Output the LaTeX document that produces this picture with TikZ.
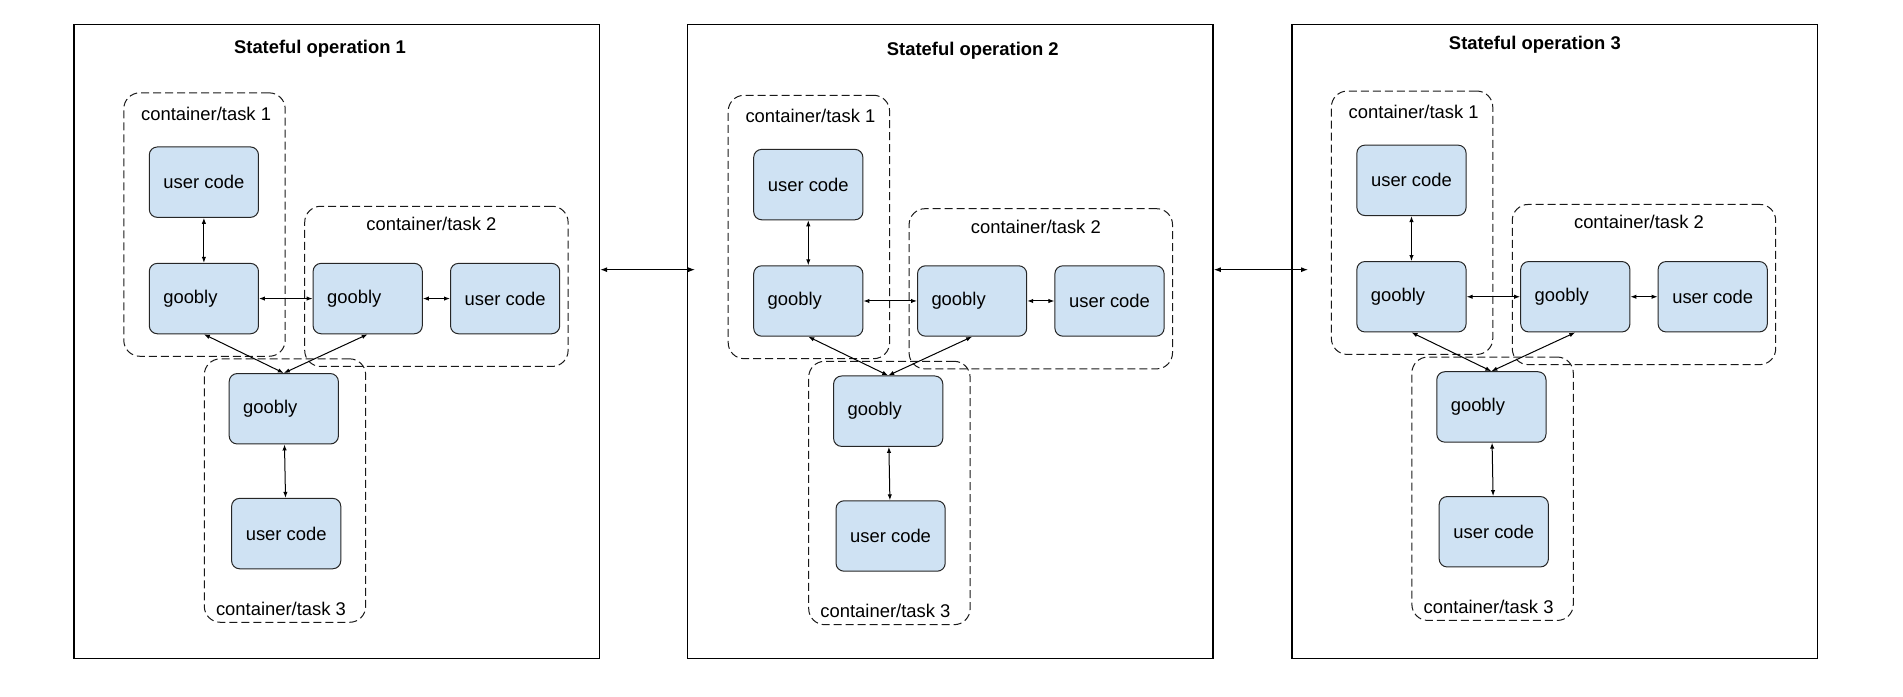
\documentclass[tikz,border=0pt]{standalone}
\usepackage{fontspec}
\setmainfont{Liberation Sans}
\usepackage{tikz}
\usetikzlibrary{arrows.meta}
\usetikzlibrary{positioning,calc}
\definecolor{boxblue}{HTML}{CFE2F3}
\tikzset{
    opbox/.style={
      rectangle,
           draw=black, line width=0.7pt,
           minimum width=262.7pt,
           minimum height=317pt,
           },
}
\tikzset{
    code/.style={
      rectangle, rounded corners=4pt,
           draw=black!85, line width=0.5pt,
           fill=boxblue,
           inner sep=2pt,
           text centered,
           minimum width=54.6pt,
           minimum height=35.2pt,
           font=\fontsize{9.2}{11}\selectfont,
           },
}
\tikzset{
    goob/.style={
      code,
           inner xsep=7pt,
           text width=40.6pt,
           align=left,
           },
}
\tikzset{
    tall/.style={
      rectangle, rounded corners=8pt,
           draw=black!90, line width=0.5pt,
           dash pattern=on 4pt off 2pt,
           minimum width=80.7pt,
           minimum height=131.7pt,
           },
    wide/.style={
      tall,
           minimum width=131.7pt,
           minimum height=80.1pt,
           },
}
\tikzset{
    tasklabel/.style={inner sep=0pt, font=\fontsize{9.2}{11}\selectfont},
    title/.style={inner sep=0pt, font=\fontsize{9.2}{11}\selectfont\bfseries},
    link/.style={{Latex[length=3pt,width=2.2pt]}-{Latex[length=3pt,width=2.2pt]}, line width=0.5pt},
}
\begin{document}
\begin{tikzpicture}[x=0.6068pt,y=0.6068pt]

\useasboundingbox (0,0) rectangle (1568,-574);

\node[opbox](op1) at (277.5,-281.2){};
\node[opbox,right = 43.4pt of op1](op2){};
\node[opbox,right = 38.8pt of op2](op3){};

\node[title](t1) at ([xshift=-8.4pt,yshift=-12.6pt]op1.north){Stateful operation 1};
\node[title](t2) at ([xshift=11.2pt,yshift=-13.4pt]op2.north){Stateful operation 2};
\node[title](t3) at ([xshift=-10pt,yshift=-10.7pt]op3.north){Stateful operation 3};

\path (op1.east) ++(0,35.8pt) coordinate (a12);
\path (op2.west) ++(4pt,35.8pt) coordinate (b12);
\path (op2.east) ++(0,35.8pt) coordinate (a23);
\path (op3.west) ++(8.3pt,35.8pt) coordinate (b23);
\draw[link,{Latex[length=3.5pt,width=2.5pt]}-{Latex[length=3.5pt,width=2.5pt]}] (a12) -- (b12);
\draw[link,{Latex[length=3.5pt,width=2.5pt]}-{Latex[length=3.5pt,width=2.5pt]}] (a23) -- (b23);

% operation 1
\node[goob](p1g1) at (168,-246){goobly};
\node[code,above = 22.5pt of p1g1](p1u1){user code};
\node[goob,right = 26.8pt of p1g1](p1g2){goobly};
\node[code,right = 13.6pt of p1g2](p1u2){user code};
\coordinate (p1m) at ($(p1g1.south)!0.5!(p1g2.south)$);
\node[goob,below = 19.4pt of p1m,xshift=-1pt](p1g3){goobly};
\node[code,below = 26.7pt of p1g3,xshift=1.2pt](p1u3){user code};

\node[tall](p1c1) at ($(p1u1)!0.5!(p1g1)+(0.3pt,7.9pt)$){};
\node[wide](p1c2) at ($(p1g2)!0.5!(p1u2)+(0,6.1pt)$){};
\node[tall](p1c3) at ($(p1g3)!0.5!(p1u3)+(0,-9.7pt)$){};
\node[tasklabel](p1l1) at ([xshift=0.8pt,yshift=-10.8pt]p1c1.north){container/task 1};
\node[tasklabel](p1l2) at ([xshift=-2.5pt,yshift=-9.2pt]p1c2.north){container/task 2};
\node[tasklabel](p1l3) at ([xshift=-2pt,yshift=7pt]p1c3.south){container/task 3};

\path (p1u1) edge[link](p1g1);
\path (p1g1) edge[link](p1g2);
\path (p1g2) edge[link](p1u2);
\path (p1g1.south) edge[link](p1g3.north);
\path (p1g2.south) edge[link](p1g3.north);
\path (p1g3) edge[link](p1u3);

% operation 2
\node[goob](p2g1) at (666,-248){goobly};
\node[code,above = 22.5pt of p2g1](p2u1){user code};
\node[goob,right = 26.8pt of p2g1](p2g2){goobly};
\node[code,right = 13.6pt of p2g2](p2u2){user code};
\coordinate (p2m) at ($(p2g1.south)!0.5!(p2g2.south)$);
\node[goob,below = 19.4pt of p2m,xshift=-1pt](p2g3){goobly};
\node[code,below = 26.7pt of p2g3,xshift=1.2pt](p2u3){user code};

\node[tall](p2c1) at ($(p2u1)!0.5!(p2g1)+(0.3pt,7.9pt)$){};
\node[wide](p2c2) at ($(p2g2)!0.5!(p2u2)+(0,6.1pt)$){};
\node[tall](p2c3) at ($(p2g3)!0.5!(p2u3)+(0,-9.7pt)$){};
\node[tasklabel](p2l1) at ([xshift=0.8pt,yshift=-10.8pt]p2c1.north){container/task 1};
\node[tasklabel](p2l2) at ([xshift=-2.5pt,yshift=-9.2pt]p2c2.north){container/task 2};
\node[tasklabel](p2l3) at ([xshift=-2pt,yshift=7pt]p2c3.south){container/task 3};

\path (p2u1) edge[link](p2g1);
\path (p2g1) edge[link](p2g2);
\path (p2g2) edge[link](p2u2);
\path (p2g1.south) edge[link](p2g3.north);
\path (p2g2.south) edge[link](p2g3.north);
\path (p2g3) edge[link](p2u3);

% operation 3
\node[goob](p3g1) at (1163,-244.5){goobly};
\node[code,above = 22.5pt of p3g1](p3u1){user code};
\node[goob,right = 26.8pt of p3g1](p3g2){goobly};
\node[code,right = 13.6pt of p3g2](p3u2){user code};
\coordinate (p3m) at ($(p3g1.south)!0.5!(p3g2.south)$);
\node[goob,below = 19.4pt of p3m,xshift=-1pt](p3g3){goobly};
\node[code,below = 26.7pt of p3g3,xshift=1.2pt](p3u3){user code};

\node[tall](p3c1) at ($(p3u1)!0.5!(p3g1)+(0.3pt,7.9pt)$){};
\node[wide](p3c2) at ($(p3g2)!0.5!(p3u2)+(0,6.1pt)$){};
\node[tall](p3c3) at ($(p3g3)!0.5!(p3u3)+(0,-9.7pt)$){};
\node[tasklabel](p3l1) at ([xshift=0.8pt,yshift=-10.8pt]p3c1.north){container/task 1};
\node[tasklabel](p3l2) at ([xshift=-2.5pt,yshift=-9.2pt]p3c2.north){container/task 2};
\node[tasklabel](p3l3) at ([xshift=-2pt,yshift=7pt]p3c3.south){container/task 3};

\path (p3u1) edge[link](p3g1);
\path (p3g1) edge[link](p3g2);
\path (p3g2) edge[link](p3u2);
\path (p3g1.south) edge[link](p3g3.north);
\path (p3g2.south) edge[link](p3g3.north);
\path (p3g3) edge[link](p3u3);

\end{tikzpicture}
\end{document}
